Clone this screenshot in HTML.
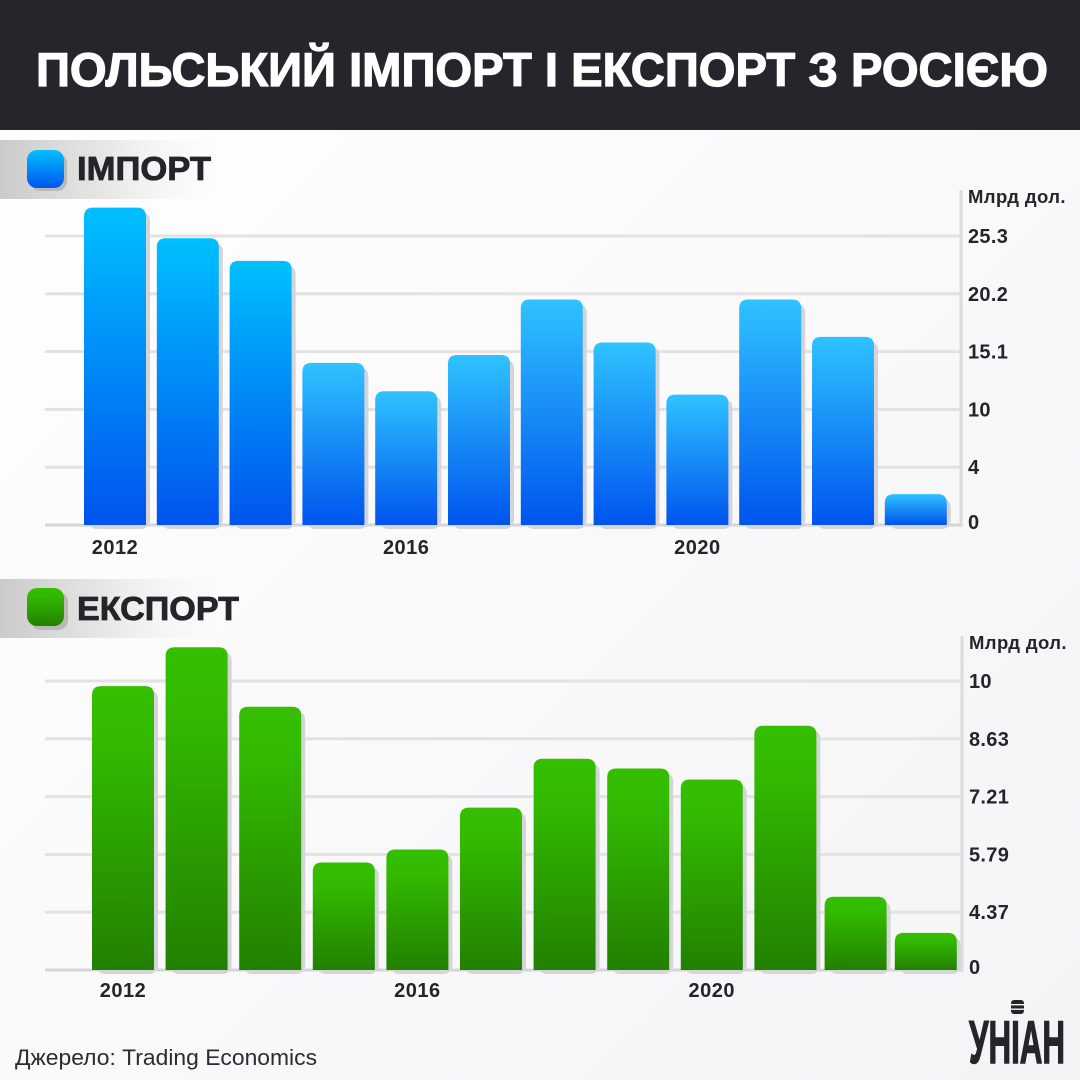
<!DOCTYPE html>
<html lang="uk">
<head>
<meta charset="utf-8">
<title>Польський імпорт і експорт з Росією</title>
<style>
html,body{margin:0;padding:0;width:1080px;height:1080px;overflow:hidden;background:#fafafa}
svg{display:block}
text{font-family:"Liberation Sans","Noto Sans CJK SC",sans-serif}
</style>
</head>
<body>
<svg id="chart" xmlns="http://www.w3.org/2000/svg" width="1080" height="1080" viewBox="0 0 1080 1080">
  <defs>
    <linearGradient id="bg" x1="0" y1="0" x2="1" y2="1"><stop offset="0" stop-color="#ffffff"/><stop offset="1" stop-color="#f4f4f6"/></linearGradient>
    <linearGradient id="band" x1="0" y1="0" x2="1" y2="0"><stop offset="0" stop-color="#cacaca"/><stop offset="0.45" stop-color="#e9e8e7"/><stop offset="1" stop-color="#fdfdfd" stop-opacity="0"/></linearGradient>
    <linearGradient id="blue" x1="0" y1="0" x2="0" y2="1"><stop offset="0" stop-color="#00c0ff"/><stop offset="1" stop-color="#0054ee"/></linearGradient>
    <linearGradient id="blue2" x1="0" y1="0" x2="0" y2="1"><stop offset="0" stop-color="#2fc3ff"/><stop offset="1" stop-color="#0054ee"/></linearGradient>
    <linearGradient id="green" x1="0" y1="0" x2="0" y2="1"><stop offset="0" stop-color="#35bf00"/><stop offset="0.2" stop-color="#33ba00"/><stop offset="1" stop-color="#228000"/></linearGradient>
  </defs>
  <rect width="1080" height="1080" fill="url(#bg)"/>
  <rect width="1080" height="130" fill="#24262c"/>
  <text x="36" y="86" font-size="47" font-weight="700" fill="#ffffff" stroke="#ffffff" stroke-width="1.2" textLength="1012" lengthAdjust="spacingAndGlyphs">ПОЛЬСЬКИЙ ІМПОРТ І ЕКСПОРТ З РОСІЄЮ</text>

  <rect x="0" y="140" width="240" height="59" fill="url(#band)"/>
  <rect x="30" y="153" width="37" height="38" rx="10" fill="#b9b9b9"/>
  <rect x="27" y="150" width="37" height="38" rx="10" fill="url(#blue)"/>
  <text x="77" y="180" font-size="33" font-weight="700" fill="#24252b" stroke="#24252b" stroke-width="0.8" textLength="134" lengthAdjust="spacingAndGlyphs">ІМПОРТ</text>

  <rect x="0" y="579" width="240" height="59" fill="url(#band)"/>
  <rect x="31" y="592" width="37" height="38" rx="10" fill="#b9b9b9"/>
  <rect x="27" y="588" width="37" height="38" rx="10" fill="url(#green)"/>
  <text x="77" y="620" font-size="33" font-weight="700" fill="#24252b" stroke="#24252b" stroke-width="0.8" textLength="162" lengthAdjust="spacingAndGlyphs">ЕКСПОРТ</text>

  <g id="import-chart"></g>
  <g id="export-chart"></g>

  <text x="15" y="1065" font-size="22" fill="#2b2c31" textLength="302" lengthAdjust="spacingAndGlyphs">Джерело: Trading Economics</text>

  <g>
    <rect x="1011" y="1000" width="13" height="14" rx="3" fill="#24252b"/>
    <rect x="1011" y="1004" width="13" height="1.4" fill="#f6f6f7"/>
    <rect x="1011" y="1008.5" width="13" height="1.4" fill="#f6f6f7"/>
    <text x="969" y="1063" font-size="60" font-weight="700" fill="#24252b" stroke="#24252b" stroke-width="1.5" textLength="96" lengthAdjust="spacingAndGlyphs">УНІАН</text>
  </g>
</svg>
<script>
// Shared categories
var years = [2012, 2013, 2014, 2015, 2016, 2017, 2018, 2019, 2020, 2021, 2022, 2023];
var yearLabels = [2012, 2016, 2020];

// Import series (billion USD) and its printed axis ticks
var importValues = [27.8, 25.1, 23.1, 14.1, 11.6, 14.8, 19.7, 15.9, 11.3, 19.7, 16.4, 2.14];
var importTicks = [0, 4, 10, 15.1, 20.2, 25.3];

// Export series (billion USD) and its printed axis ticks
var exportValues = [9.88, 10.8, 9.39, 5.59, 5.91, 6.94, 8.14, 7.90, 7.63, 8.94, 4.75, 2.81];
var exportTicks = [0, 4.37, 5.79, 7.21, 8.63, 10];

var unitLabel = 'Млрд дол.';
var NS = 'http://www.w3.org/2000/svg';

function svgEl(tag, parent) {
  var el = document.createElementNS(NS, tag);
  parent.appendChild(el);
  return el;
}

// The source axis has evenly spaced ticks with uneven values: piecewise-linear scale.
function makeYScale(ticks, baseY, tickStep) {
  return function (v) {
    var i = 1;
    while (i < ticks.length - 1 && v > ticks[i]) i++;
    var frac = (v - ticks[i - 1]) / (ticks[i] - ticks[i - 1]);
    return baseY - (i - 1 + frac) * tickStep;
  };
}

// Category scale: regular step, tightening after the tailFrom slot.
function makeXScale(firstX, step, tailFrom, tailStep) {
  return function (i) {
    if (i <= tailFrom) return firstX + i * step;
    return firstX + tailFrom * step + (i - tailFrom) * tailStep;
  };
}

function drawChart(g, values, ticks, layout) {
  var y = makeYScale(ticks, layout.baseY, layout.tickStep);
  var x = makeXScale(layout.firstX, layout.step, layout.tailFrom, layout.tailStep);
  var i;

  for (i = 0; i < ticks.length; i++) {
    var gy = y(ticks[i]);
    var grid = svgEl('rect', g);
    
    
    grid.setAttribute('x', 45);
    grid.setAttribute('y', gy - 1.5);
    grid.setAttribute('width', layout.axisX - 45);
    grid.setAttribute('height', 3);
    grid.setAttribute('fill', i === 0 ? '#d6d6da' : '#e2e2e2');

    var tick = svgEl('text', g);
    
    
    tick.setAttribute('x', layout.axisX + 7);
    tick.setAttribute('y', gy + (i === 0 ? 4 : 7));
    tick.setAttribute('font-size', 20);
    tick.setAttribute('font-weight', 700);
    tick.setAttribute('letter-spacing', 0.3);
    tick.setAttribute('fill', '#24252b');
    tick.textContent = String(ticks[i]);
  }

  var axis = svgEl('rect', g);
  
  
  axis.setAttribute('x', layout.axisX - 1.5);
  axis.setAttribute('y', layout.axisTop);
  axis.setAttribute('width', 3);
  axis.setAttribute('height', layout.baseY - layout.axisTop + 2);
  axis.setAttribute('fill', '#dcdcdc');

  var unit = svgEl('text', g);
  
  
  unit.setAttribute('x', layout.axisX + 7);
  unit.setAttribute('y', layout.axisTop + 13);
  unit.setAttribute('font-size', 18.5);
  unit.setAttribute('font-weight', 700);
  unit.setAttribute('letter-spacing', 0.4);
  unit.setAttribute('fill', '#24252b');
  unit.textContent = unitLabel;

  for (i = 0; i < values.length; i++) {
    var top = y(values[i]);
    var h = layout.baseY - top;
    var r = Math.min(9, h / 2);
    var bx = x(i);

    var shadow = svgEl('rect', g);
    
    
    shadow.setAttribute('x', bx + 4);
    shadow.setAttribute('y', top + 4);
    shadow.setAttribute('width', layout.barW);
    shadow.setAttribute('height', h);
    shadow.setAttribute('rx', r);
    shadow.setAttribute('fill', '#d5d4d9');

    var bar = svgEl('path', g);
    
    
    bar.setAttribute('d', 'M' + bx + ' ' + layout.baseY + 'V' + (top + r) +
      'Q' + bx + ' ' + top + ' ' + (bx + r) + ' ' + top +
      'H' + (bx + layout.barW - r) +
      'Q' + (bx + layout.barW) + ' ' + top + ' ' + (bx + layout.barW) + ' ' + (top + r) +
      'V' + layout.baseY + 'Z');
    bar.setAttribute('fill', 'url(#' + (h < 230 && layout.gradient === 'blue' ? 'blue2' : layout.gradient) + ')');

    if (yearLabels.indexOf(years[i]) !== -1) {
      var label = svgEl('text', g);
      
      
      label.setAttribute('x', bx + layout.barW / 2);
      label.setAttribute('y', layout.labelY);
      label.setAttribute('text-anchor', 'middle');
      label.setAttribute('font-size', 20);
      label.setAttribute('font-weight', 700);
      label.setAttribute('letter-spacing', 0.5);
      label.setAttribute('fill', '#24252b');
      label.textContent = String(years[i]);
    }
  }
}

drawChart(document.getElementById('import-chart'), importValues, importTicks, {
  baseY: 525, tickStep: 57.8, firstX: 84, step: 72.8, tailFrom: 11, tailStep: 72.8, barW: 62,
  axisX: 961, axisTop: 190, labelY: 554, gradient: 'blue'
});
drawChart(document.getElementById('export-chart'), exportValues, exportTicks, {
  baseY: 970, tickStep: 57.8, firstX: 92, step: 73.6, tailFrom: 9, tailStep: 70.2, barW: 62,
  axisX: 962, axisTop: 636, labelY: 997, gradient: 'green'
});
</script>
</body>
</html>
